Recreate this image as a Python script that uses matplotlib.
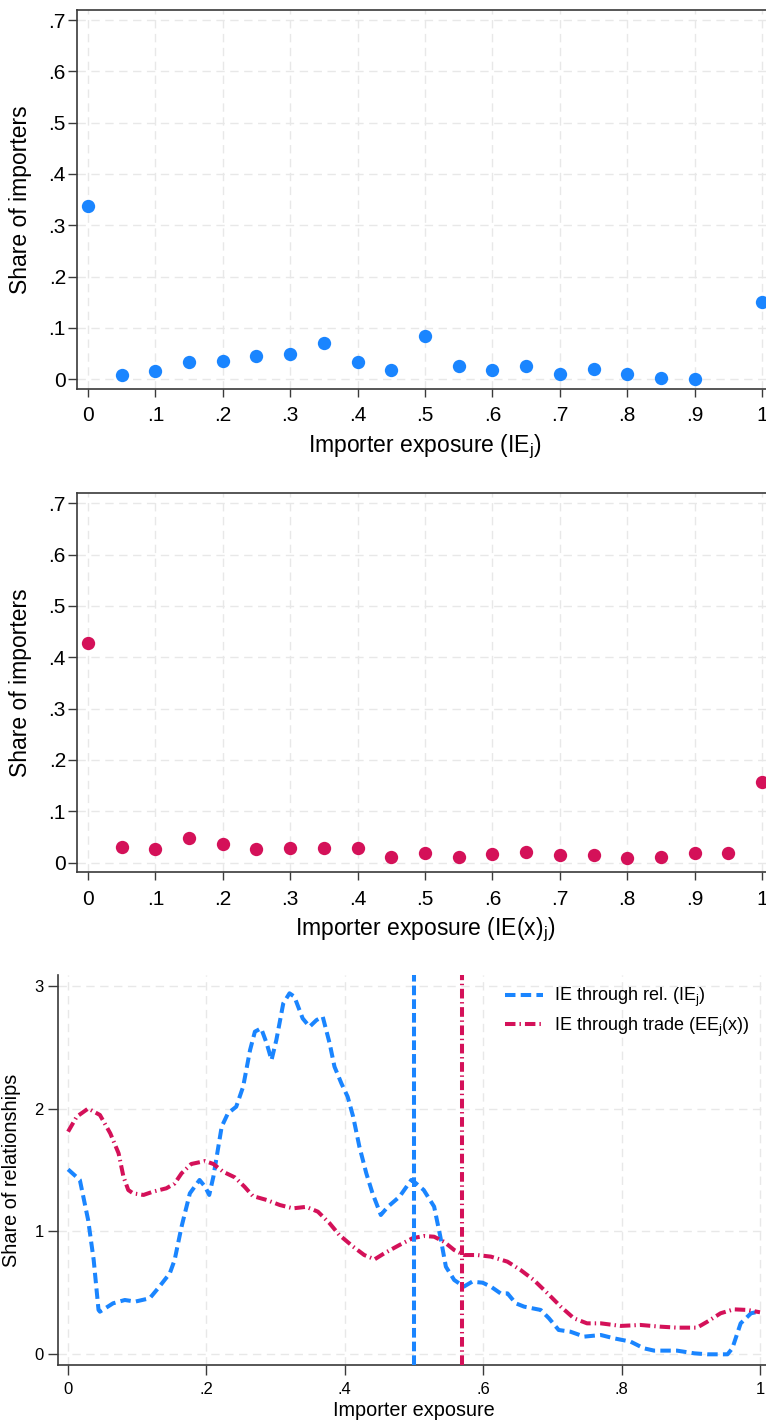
import matplotlib
matplotlib.use("Agg")
import matplotlib.pyplot as plt
import numpy as np

plt.rcParams['font.family'] = ['Liberation Sans', 'DejaVu Sans']
plt.rcParams['mathtext.fontset'] = 'custom'
plt.rcParams['mathtext.rm'] = 'Liberation Sans'

BLUE = '#1A85FF'
RED = '#D41159'
GRID = '#E8E8E8'
SPINE = '#3A3A3A'

# ---------------- data ----------------
bins_top = [0, .05, .1, .15, .2, .25, .3, .35, .4, .45, .5, .55, .6, .65, .7, .75, .8, .85, .9, 1.0]
share_top = [0.338, 0.008, 0.016, 0.034, 0.036, 0.045, 0.050, 0.070, 0.034, 0.018, 0.084,
             0.026, 0.018, 0.026, 0.010, 0.020, 0.010, 0.003, 0.001, 0.151]

bins_mid = [0, .05, .1, .15, .2, .25, .3, .35, .4, .45, .5, .55, .6, .65, .7, .75, .8, .85, .9, .95, 1.0]
share_mid = [0.428, 0.030, 0.026, 0.048, 0.037, 0.026, 0.028, 0.028, 0.029, 0.010, 0.019,
             0.011, 0.016, 0.021, 0.014, 0.014, 0.008, 0.010, 0.018, 0.018, 0.157]

x_rel = [0.0, 0.017, 0.029, 0.037, 0.044, 0.046, 0.065, 0.082, 0.097, 0.118, 0.130, 0.147,
         0.154, 0.164, 0.176, 0.190, 0.198, 0.204, 0.210, 0.222, 0.231, 0.243, 0.253, 0.263,
         0.270, 0.279, 0.287, 0.294, 0.301, 0.311, 0.320, 0.327, 0.339, 0.349, 0.359, 0.368,
         0.378, 0.385, 0.395, 0.404, 0.412, 0.421, 0.431, 0.440, 0.452, 0.462, 0.479, 0.496,
         0.500, 0.514, 0.529, 0.538, 0.546, 0.558, 0.572, 0.584, 0.599, 0.611, 0.625, 0.635,
         0.647, 0.659, 0.683, 0.695, 0.709, 0.726, 0.746, 0.770, 0.789, 0.813, 0.832, 0.847,
         0.880, 0.905, 0.924, 0.953, 0.960, 0.972, 0.987, 0.998]
y_rel = [1.505, 1.419, 1.093, 0.768, 0.361, 0.347, 0.415, 0.442, 0.429, 0.456, 0.537, 0.659,
         0.768, 1.039, 1.310, 1.419, 1.364, 1.297, 1.446, 1.853, 1.961, 2.015, 2.178, 2.476,
         2.626, 2.653, 2.531, 2.395, 2.558, 2.856, 2.938, 2.911, 2.734, 2.666, 2.720, 2.748,
         2.531, 2.341, 2.205, 2.097, 1.934, 1.690, 1.473, 1.310, 1.134, 1.200, 1.283, 1.419,
         1.405, 1.337, 1.202, 0.957, 0.713, 0.605, 0.551, 0.591, 0.583, 0.551, 0.496, 0.496,
         0.415, 0.388, 0.361, 0.293, 0.198, 0.184, 0.144, 0.157, 0.130, 0.103, 0.049, 0.030,
         0.030, 0.008, 0.000, 0.000, 0.049, 0.252, 0.334, 0.347]

x_trade = [0.0, 0.0125, 0.029, 0.046, 0.061, 0.073, 0.080, 0.087, 0.094, 0.109, 0.123, 0.142,
           0.154, 0.164, 0.178, 0.198, 0.210, 0.224, 0.241, 0.255, 0.267, 0.287, 0.306, 0.325,
           0.344, 0.361, 0.378, 0.392, 0.412, 0.428, 0.443, 0.457, 0.479, 0.498, 0.514, 0.529,
           0.543, 0.558, 0.572, 0.591, 0.611, 0.635, 0.654, 0.673, 0.693, 0.712, 0.731, 0.750,
           0.770, 0.799, 0.827, 0.856, 0.880, 0.909, 0.924, 0.943, 0.962, 0.982, 1.0]
y_trade = [1.812, 1.934, 2.000, 1.948, 1.798, 1.636, 1.446, 1.337, 1.310, 1.297, 1.324, 1.351,
           1.390, 1.473, 1.549, 1.573, 1.549, 1.486, 1.440, 1.364, 1.288, 1.256, 1.215, 1.188,
           1.200, 1.161, 1.066, 0.971, 0.876, 0.808, 0.773, 0.822, 0.890, 0.945, 0.963, 0.957,
           0.917, 0.849, 0.808, 0.808, 0.795, 0.754, 0.686, 0.605, 0.496, 0.388, 0.293, 0.252,
           0.252, 0.231, 0.239, 0.225, 0.217, 0.217, 0.266, 0.334, 0.366, 0.361, 0.342]

mean_rel = 0.50
mean_trade = 0.57

xt_top = [0, .1, .2, .3, .4, .5, .6, .7, .8, .9, 1]
xt_top_lab = ['0', '.1', '.2', '.3', '.4', '.5', '.6', '.7', '.8', '.9', '1']
yt_top = [0, .1, .2, .3, .4, .5, .6, .7]
yt_top_lab = ['0', '.1', '.2', '.3', '.4', '.5', '.6', '.7']
xt_bot = [0, .2, .4, .6, .8, 1]
xt_bot_lab = ['0', '.2', '.4', '.6', '.8', '1']
yt_bot = [0, 1, 2, 3]
yt_bot_lab = ['0', '1', '2', '3']

# ---------------- figure ----------------
W, H = 766, 1421
fig = plt.figure(figsize=(W / 100, H / 100), dpi=100)


def px_axes(left, top, right, bottom):
    return fig.add_axes([left / W, 1 - bottom / H, (right - left) / W, (bottom - top) / H])


def style_common(ax):
    for s in ['left', 'bottom', 'top']:
        ax.spines[s].set_color(SPINE)
        ax.spines[s].set_linewidth(1.2)
    ax.spines['right'].set_visible(False)
    ax.grid(True, color=GRID, linestyle=(0, (6, 4)), linewidth=1.0)
    ax.set_axisbelow(True)


def scatter_panel(ax, xs, ys, color, xlabel):
    style_common(ax)
    ax.scatter(xs, ys, s=92, color=color, zorder=3, linewidths=0, clip_on=True)
    ax.set_xlim(-0.0163, 1.0163)
    ax.set_ylim(-0.019, 0.7195)
    ax.set_xticks(xt_top)
    ax.set_xticklabels(xt_top_lab)
    ax.set_yticks(yt_top)
    ax.set_yticklabels(yt_top_lab)
    ax.tick_params(axis='y', length=6.5, width=1.0, color=SPINE, pad=1.5, labelsize=15)
    ax.tick_params(axis='x', length=5.5, width=1.0, color=SPINE, pad=7, labelsize=15)
    ax.set_ylabel('Share of importers', fontsize=16.5, labelpad=12)
    ax.set_xlabel(xlabel, fontsize=16.5, labelpad=5)


ax1 = px_axes(77, 10, 773, 389)
scatter_panel(ax1, bins_top, share_top, BLUE, r'Importer exposure (IE$_\mathregular{j}$)')

ax2 = px_axes(77, 493.3, 773, 872.3)
scatter_panel(ax2, bins_mid, share_mid, RED, r'Importer exposure (IE(x)$_\mathregular{j}$)')

# bottom panel
ax3 = px_axes(57.7, 975, 770.4, 1365)
style_common(ax3)
ax3.spines['top'].set_visible(False)
ax3.plot(x_rel, y_rel, color=BLUE, linewidth=2.9, dashes=(2.6, 1.3),
         label=r'IE through rel. (IE$_\mathregular{j}$)', zorder=3)
ax3.plot(x_trade, y_trade, color=RED, linewidth=2.9, dashes=(2.6, 1.0, 0.35, 1.0),
         label=r'IE through trade (EE$_\mathregular{j}$(x))', zorder=3)
ax3.axvline(mean_rel, color=BLUE, linewidth=2.9, dashes=(2.4, 1.0), zorder=3)
ax3.axvline(mean_trade, color=RED, linewidth=2.9, dashes=(2.4, 0.9, 0.35, 0.9), zorder=3)
ax3.set_xlim(-0.015, 1.015)
ax3.set_ylim(-0.087, 3.087)
ax3.set_xticks(xt_bot)
ax3.set_xticklabels(xt_bot_lab)
ax3.set_yticks(yt_bot)
ax3.set_yticklabels(yt_bot_lab)
ax3.tick_params(axis='y', length=7, width=1.0, color=SPINE, pad=3, labelsize=12)
ax3.tick_params(axis='x', length=7, width=1.0, color=SPINE, pad=5, labelsize=12)
ax3.set_ylabel('Share of relationships', fontsize=14.3, labelpad=10)
ax3.set_xlabel('Importer exposure', fontsize=14.3, labelpad=3)
ax3.legend(loc='upper left', bbox_to_anchor=(505 / W, 1 - 986 / H),
           bbox_transform=fig.transFigure, frameon=False, fontsize=13,
           handlelength=2.1, handletextpad=0.6, labelspacing=0.35,
           borderpad=0, borderaxespad=0)

fig.savefig('out.png', dpi=100)
